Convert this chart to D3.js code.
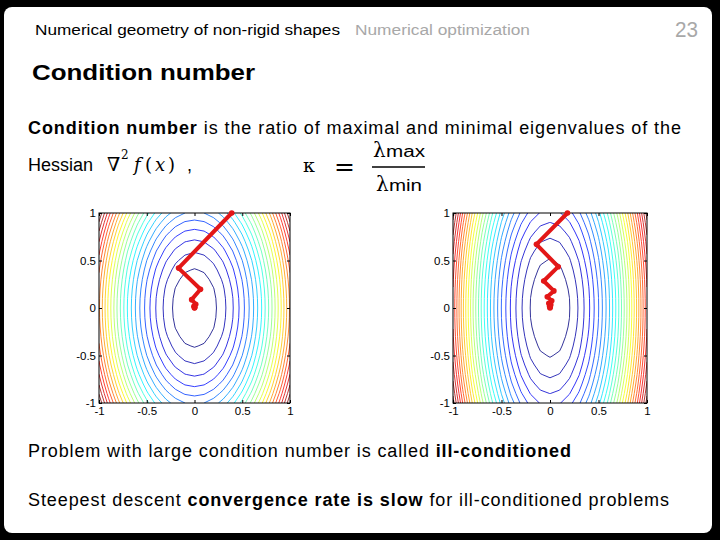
<!DOCTYPE html>
<html lang="en">
<head>
<meta charset="UTF-8"/>
<title>Condition number</title>
<script src="https://d3js.org/d3.v7.min.js"></script>
<style type="text/css">
    body { margin: 0; background: #000; }
    text { font-family: "Liberation Sans", Arial, sans-serif; }
    .tick line { stroke: #000; }
</style>
</head>
<body>
<svg id="main" width="720" height="540"></svg>
<script>

// tick values shared by both plots
var ticks = [-1, -0.5, 0, 0.5, 1]

// quadratic f = a*x^2 + b*y^2 for each panel, and its contour levels
var leftCoef = [1, 0.32]
var rightCoef = [1, 0.155]
var leftLevels = [0.055, 0.11, 0.165, 0.22, 0.275, 0.33, 0.385, 0.44, 0.495, 0.55, 0.605, 0.66,
  0.715, 0.77, 0.825, 0.88, 0.935, 0.99, 1.045, 1.1, 1.155, 1.21, 1.265]
var rightLevels = [0.042, 0.084, 0.126, 0.168, 0.21, 0.252, 0.294, 0.336, 0.378, 0.42, 0.462, 0.504,
  0.546, 0.588, 0.63, 0.672, 0.714, 0.756, 0.798, 0.84, 0.882, 0.924, 0.966, 1.008, 1.05, 1.092, 1.134]

// steepest descent iterates
var leftPathX = [0.39, -0.167, 0.063, -0.03, 0.013, -0.006, 0.003, 0, 0]
var leftPathY = [1, 0.42, 0.197, 0.088, 0.04, 0.018, 0.008, 0.004, 0]
var rightPathX = [0.18, -0.14, 0.085, -0.065, 0.04, -0.028, 0.018, -0.012, 0.008, -0.005, 0.003, 0, 0]
var rightPathY = [1, 0.67, 0.435, 0.284, 0.18, 0.118, 0.077, 0.05, 0.033, 0.021, 0.014, 0.009, 0]

var svg = d3.select("#main")

// slide background
svg.append("rect").attr("width", 720).attr("height", 540).attr("fill", "#000")
svg.append("rect").attr("x", 4).attr("y", 7).attr("width", 708).attr("height", 526)
  .attr("rx", 8).attr("fill", "#fff")

// header
svg.append("text").attr("x", 35).attr("y", 35).style("font-size", "14px")
  .attr("textLength", 305).attr("lengthAdjust", "spacingAndGlyphs")
  .text("Numerical geometry of non-rigid shapes")
svg.append("text").attr("x", 355).attr("y", 35).style("font-size", "14px").attr("fill", "#a8a8a8")
  .attr("textLength", 175).attr("lengthAdjust", "spacingAndGlyphs")
  .text("Numerical optimization")
svg.append("text").attr("x", 698).attr("y", 37).style("font-size", "22px").attr("fill", "#a8a8a8")
  .attr("text-anchor", "end").attr("textLength", 23).attr("lengthAdjust", "spacingAndGlyphs").text("23")

svg.append("text").attr("x", 32).attr("y", 80).style("font-size", "22px").style("font-weight", "bold")
  .attr("textLength", 223).attr("lengthAdjust", "spacingAndGlyphs")
  .text("Condition number")

// body text
var t1 = svg.append("text").attr("x", 28).attr("y", 134).style("font-size", "18px")
  .attr("textLength", 653).attr("lengthAdjust", "spacing")
t1.append("tspan").style("font-weight", "bold").text("Condition number")
t1.append("tspan").text(" is the ratio of maximal and minimal eigenvalues of the")

svg.append("text").attr("x", 28).attr("y", 171).style("font-size", "18px").text("Hessian")

// formula pieces
var serif = "'DejaVu Serif', 'Liberation Serif', serif"
svg.append("text").attr("x", 107).attr("y", 171).style("font-family", serif).style("font-size", "19px").text("\u2207")
svg.append("text").attr("x", 121).attr("y", 159).style("font-family", serif).style("font-size", "12px").text("2")
svg.append("text").attr("x", 134).attr("y", 171).style("font-family", serif).style("font-size", "18px")
  .style("font-style", "italic").text("f")
svg.append("text").attr("x", 145).attr("y", 171).style("font-family", serif).style("font-size", "18px").text("(")
svg.append("text").attr("x", 155).attr("y", 171).style("font-family", serif).style("font-size", "18px")
  .style("font-style", "italic").text("x")
svg.append("text").attr("x", 168).attr("y", 171).style("font-family", serif).style("font-size", "18px").text(")")
svg.append("text").attr("x", 187).attr("y", 171).style("font-size", "18px").text(",")

svg.append("text").attr("x", 303).attr("y", 172).style("font-family", serif).style("font-size", "19px")
  .text("\u03ba")
svg.append("text").attr("x", 334).attr("y", 175).style("font-family", serif).style("font-size", "25px").text("=")
svg.append("text").attr("x", 373).attr("y", 157).style("font-family", serif).style("font-size", "20px").text("\u03bb")
svg.append("text").attr("x", 386).attr("y", 157).style("font-size", "16px")
  .attr("textLength", 39).attr("lengthAdjust", "spacingAndGlyphs").text("max")
svg.append("line").attr("x1", 372).attr("x2", 425).attr("y1", 167).attr("y2", 167)
  .attr("stroke", "#000").attr("stroke-width", 1.3)
svg.append("text").attr("x", 376).attr("y", 191).style("font-family", serif).style("font-size", "20px").text("\u03bb")
svg.append("text").attr("x", 389).attr("y", 191).style("font-size", "16px")
  .attr("textLength", 33).attr("lengthAdjust", "spacingAndGlyphs").text("min")

// bottom text
var t2 = svg.append("text").attr("x", 28).attr("y", 457).style("font-size", "18px")
  .attr("textLength", 543).attr("lengthAdjust", "spacing")
t2.append("tspan").text("Problem with large condition number is called ")
t2.append("tspan").style("font-weight", "bold").text("ill-conditioned")

var t3 = svg.append("text").attr("x", 28).attr("y", 506).style("font-size", "18px")
  .attr("textLength", 641).attr("lengthAdjust", "spacing")
t3.append("tspan").text("Steepest descent ")
t3.append("tspan").style("font-weight", "bold").text("convergence rate is slow")
t3.append("tspan").text(" for ill-conditioned problems")

// jet colormap
var jet = d3.scaleLinear()
  .domain([0, 0.125, 0.375, 0.625, 0.875, 1])
  .range(["#000080", "#0000ff", "#00ffff", "#ffff00", "#ff0000", "#800000"])

var n = 21, step = 2 / (n - 1)

function panel(id, x0, x1, coef, levels, px, py) {
  var x = d3.scaleLinear().domain([-1, 1]).range([x0, x1])
  var y = d3.scaleLinear().domain([-1, 1]).range([403, 213])

  var g = svg.append("g")
  g.append("clipPath").attr("id", id).append("rect")
    .attr("x", x0).attr("y", 213).attr("width", x1 - x0).attr("height", 190)

  var values = new Array(n * n)
  for (var j = 0; j < n; j++) {
    for (var i = 0; i < n; i++) {
      var xv = -1 + i * step, yv = -1 + j * step
      values[j * n + i] = coef[0] * xv * xv + coef[1] * yv * yv
    }
  }
  var lo = levels[0], hi = levels[levels.length - 1]
  var contours = d3.contours().size([n, n]).thresholds(levels)(values)

  var proj = d3.geoTransform({
    point: function(cx, cy) {
      this.stream.point(x(-1 + (cx - 0.5) * step), y(-1 + (cy - 0.5) * step))
    }
  })
  var path = d3.geoPath(proj)

  g.append("g").attr("clip-path", "url(#" + id + ")")
    .selectAll("path").data(contours).enter().append("path")
    .attr("d", path)
    .attr("fill", "none")
    .attr("stroke", function(d) { return jet((d.value - lo) / (hi - lo)) })
    .attr("stroke-width", 0.8)

  // axes, MATLAB style: ticks inside, on all four sides
  var fmt = function(d) { return String(d) }
  g.append("g").attr("transform", "translate(0,403)")
    .call(d3.axisBottom(x).tickValues(ticks).tickFormat(fmt).tickSizeInner(-3).tickSizeOuter(0).tickPadding(4))
  g.append("g").attr("transform", "translate(0,213)")
    .call(d3.axisTop(x).tickValues(ticks).tickFormat("").tickSizeInner(-3).tickSizeOuter(0))
  g.append("g").attr("transform", "translate(" + x0 + ",0)")
    .call(d3.axisLeft(y).tickValues(ticks).tickFormat(fmt).tickSizeInner(-3).tickSizeOuter(0).tickPadding(3))
  g.append("g").attr("transform", "translate(" + x1 + ",0)")
    .call(d3.axisRight(y).tickValues(ticks).tickFormat("").tickSizeInner(-3).tickSizeOuter(0))
  g.selectAll(".domain").remove()
  g.selectAll(".tick text")
    .style("font-family", "'Liberation Sans', Arial, sans-serif")
    .style("font-size", "11.5px")
    .attr("fill", "#000")
  g.append("rect").attr("x", x0).attr("y", 213).attr("width", x1 - x0).attr("height", 190)
    .attr("fill", "none").attr("stroke", "#000").attr("stroke-width", 1)

  // descent path
  var pts = px.map(function(v, k) { return [v, py[k]] })
  var line = d3.line().x(function(d) { return x(d[0]) }).y(function(d) { return y(d[1]) })
  g.append("path").attr("d", line(pts)).attr("fill", "none")
    .attr("stroke", "#e31717").attr("stroke-width", 4)
    .attr("stroke-linejoin", "round").attr("stroke-linecap", "round")
  g.selectAll("circle.pt").data(pts).enter().append("circle")
    .attr("cx", function(d) { return x(d[0]) }).attr("cy", function(d) { return y(d[1]) })
    .attr("r", 2.8).attr("fill", "#e31717")
}

panel("clipL", 99, 290, leftCoef, leftLevels, leftPathX, leftPathY)
panel("clipR", 453, 647, rightCoef, rightLevels, rightPathX, rightPathY)

</script>
</body>
</html>
